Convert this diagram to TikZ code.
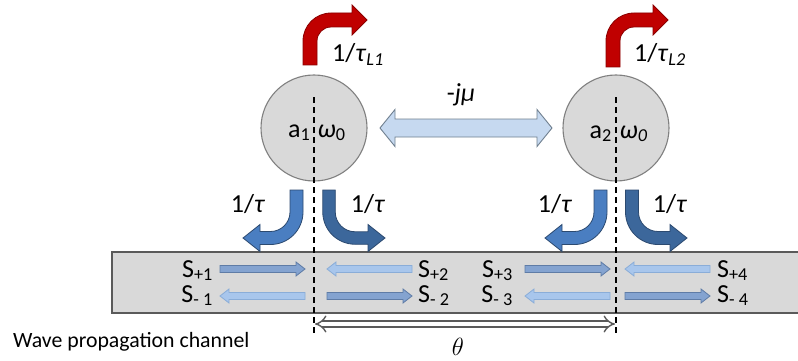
\documentclass[tikz,border=0pt]{standalone}
\usepackage{fontspec}
\setmainfont{Carlito}
\usetikzlibrary{arrows.meta}

\definecolor{ringfill}{HTML}{D9D9D9}
\definecolor{ringline}{HTML}{808080}
\definecolor{chanline}{HTML}{5A5A5A}
\definecolor{lossfill}{HTML}{C00000}
\definecolor{lossline}{HTML}{8A0000}
\definecolor{leakA}{HTML}{4A7EC1}
\definecolor{leakB}{HTML}{3C679B}
\definecolor{leakline}{HTML}{2C4A70}
\definecolor{wavedark}{HTML}{84A3D0}
\definecolor{wavedarkline}{HTML}{5F7CA6}
\definecolor{wavelight}{HTML}{A8C6EC}
\definecolor{wavelightline}{HTML}{8AADD8}
\definecolor{couplefill}{HTML}{C6D9F0}
\definecolor{coupleline}{HTML}{6F7F8F}
\definecolor{dimline}{HTML}{5A5A5A}

% bent block arrow: #1 shaft x, #2 shaft end y, #3 leg y, #4 tip x,
% #5 horizontal sense (+1/-1), #6 vertical sense (+1 down, -1 up),
% #7 width, #8 bend radius, #9 style; head size from \headhalf, \headlen
\newcommand{\bentarr}[9]{%
  \pgfmathsetmacro\cxx{#1+(#5)*(#8)}%
  \pgfmathsetmacro\cyy{#3-(#6)*(#8)}%
  \pgfmathsetmacro\rout{#8+(#7)/2}%
  \pgfmathsetmacro\rin{#8-(#7)/2}%
  \pgfmathsetmacro\pax{#1-(#5)*(#7)/2}%
  \pgfmathsetmacro\pbx{#1+(#5)*(#7)/2}%
  \pgfmathsetmacro\oyy{#3+(#6)*(#7)/2}%
  \pgfmathsetmacro\iyy{#3-(#6)*(#7)/2}%
  \pgfmathsetmacro\ocy{\cyy+(#6)*0.5523*\rout}%
  \pgfmathsetmacro\ocx{\cxx-(#5)*0.5523*\rout}%
  \pgfmathsetmacro\icy{\cyy+(#6)*0.5523*\rin}%
  \pgfmathsetmacro\icx{\cxx-(#5)*0.5523*\rin}%
  \pgfmathsetmacro\xbase{#4-(#5)*\headlen}%
  \pgfmathsetmacro\hya{#3+(#6)*\headhalf}%
  \pgfmathsetmacro\hyb{#3-(#6)*\headhalf}%
  \filldraw[#9] (\pax,#2) -- (\pax,\cyy)
    .. controls (\pax,\ocy) and (\ocx,\oyy) .. (\cxx,\oyy)
    -- (\xbase,\oyy) -- (\xbase,\hya) -- (#4,#3) -- (\xbase,\hyb)
    -- (\xbase,\iyy) -- (\cxx,\iyy)
    .. controls (\icx,\iyy) and (\pbx,\icy) .. (\pbx,\cyy)
    -- (\pbx,#2) -- cycle;}

% straight block arrow in the channel: #1 tail x, #2 tip x, #3 y, #4 style
\newcommand{\wavearr}[4]{%
  \pgfmathsetmacro\wsg{(#2>#1)?1:-1}%
  \pgfmathsetmacro\wbase{#2-\wsg*9}%
  \filldraw[#4] (#1,#3-3.5) -- (\wbase,#3-3.5) -- (\wbase,#3-7) -- (#2,#3)
    -- (\wbase,#3+7) -- (\wbase,#3+3.5) -- (#1,#3+3.5) -- cycle;}

\begin{document}
\begin{tikzpicture}[x=1pt,y=-1pt,
  lab/.style={inner sep=0pt,font=\fontsize{26}{30}\selectfont},
  small/.style={inner sep=0pt,font=\fontsize{21.8}{26}\selectfont},
  resonator/.style={circle,minimum size=106pt,inner sep=0pt,fill=ringfill,draw=ringline,line width=1.1pt},
  lossarr/.style={fill=lossfill,draw=lossline,line width=0.8pt},
  leakleft/.style={fill=leakA,draw=leakline,line width=0.8pt},
  leakright/.style={fill=leakB,draw=leakline,line width=0.8pt},
  waveR/.style={fill=wavedark,draw=wavedarkline,line width=0.8pt},
  waveL/.style={fill=wavelight,draw=wavelightline,line width=0.8pt},
  refline/.style={line width=1.4pt,dash pattern=on 6pt off 4pt},
]
\useasboundingbox (0,0) rectangle (798,361);

% wave propagation channel
\filldraw[fill=ringfill,draw=chanline,line width=1.1pt] (112,252) rectangle (802,313);
\node[small,anchor=base west] (chan) at (13,347) {Wave propagation channel};

% resonators
\node[resonator] (r1) at (314,128) {};
\node[resonator] (r2) at (616,128) {};

% coupling between resonators
\filldraw[fill=couplefill,draw=coupleline,line width=0.9pt]
  (380,128) -- (395,109.5) -- (395,119) -- (537,119) -- (537,109.5) -- (552,128)
  -- (537,146.5) -- (537,137) -- (395,137) -- (395,146.5) -- cycle;
\node[lab,anchor=base] (mu) at (461,101) {-\textit{jμ}};

% radiation losses
\def\headhalf{15}\def\headlen{15}
\bentarr{310}{65}{20}{367}{1}{-1}{14}{21}{lossarr}
\bentarr{613}{67}{20}{668}{1}{-1}{14}{21}{lossarr}
\node[lab,anchor=base west] (tl1) at (332,62) {1/\textit{τ}\textsubscript{\textit{L1}}};
\node[lab,anchor=base west] (tl2) at (634,62) {1/\textit{τ}\textsubscript{\textit{L2}}};

% leakage into the channel
\def\headhalf{13.5}\def\headlen{17}
\bentarr{296.5}{190}{238}{243}{-1}{1}{13}{26}{leakleft}
\bentarr{329}{190}{238}{385}{1}{1}{12.5}{26}{leakright}
\bentarr{600.5}{190}{238}{545}{-1}{1}{13}{26}{leakleft}
\bentarr{632}{190}{238}{687}{1}{1}{13}{26}{leakright}
\node[lab,anchor=base] (t1a) at (248,212) {1/\textit{τ}};
\node[lab,anchor=base] (t1b) at (368,212) {1/\textit{τ}};
\node[lab,anchor=base] (t2a) at (555,212) {1/\textit{τ}};
\node[lab,anchor=base] (t2b) at (670,212) {1/\textit{τ}};

% travelling waves
\wavearr{220}{305}{269}{waveR}
\wavearr{305}{220}{296}{waveL}
\wavearr{412}{327}{269}{waveL}
\wavearr{327}{412}{296}{waveR}
\wavearr{525}{610}{269}{waveR}
\wavearr{610}{525}{296}{waveL}
\wavearr{710}{625}{269}{waveL}
\wavearr{625}{710}{296}{waveR}

\node[lab,anchor=base east] (sp1) at (213,277) {S\textsubscript{+1}};
\node[lab,anchor=base east] (sm1) at (213,302) {S\textsubscript{- 1}};
\node[lab,anchor=base west] (sp2) at (418,277) {S\textsubscript{+2}};
\node[lab,anchor=base west] (sm2) at (418,302) {S\textsubscript{- 2}};
\node[lab,anchor=base east] (sp3) at (513,277) {S\textsubscript{+3}};
\node[lab,anchor=base east] (sm3) at (513,302) {S\textsubscript{- 3}};
\node[lab,anchor=base west] (sp4) at (717,277) {S\textsubscript{+4}};
\node[lab,anchor=base west] (sm4) at (717,302) {S\textsubscript{- 4}};

% reference planes
\coordinate (p1t) at (314,97);  \coordinate (p1b) at (314,334);
\coordinate (p2t) at (616,97);  \coordinate (p2b) at (616,334);
\draw[refline] (p1t) -- (p1b);
\draw[refline] (p2t) -- (p2b);

% resonator labels
\node[lab,anchor=base east] (a1) at (310.5,137) {a\textsubscript{1}};
\node[lab,anchor=base west] (w1) at (317.5,137) {\textit{ω}\textsubscript{0}};
\node[lab,anchor=base east] (a2) at (612,138) {a\textsubscript{2}};
\node[lab,anchor=base west] (w2) at (619.5,138) {\textit{ω}\textsubscript{\textit{0}}};

% electrical length between the planes
\coordinate (d1) at (315,324);
\coordinate (d2) at (615,324);
\draw[draw=dimline,double=white,double distance=4.5pt,line width=1.4pt,{Implies}-{Implies}] (d1) -- (d2);
\node[inner sep=0pt,font=\fontsize{30}{32}\selectfont,anchor=base] (th) at (458,355) {$\theta$};
\end{tikzpicture}
\end{document}
